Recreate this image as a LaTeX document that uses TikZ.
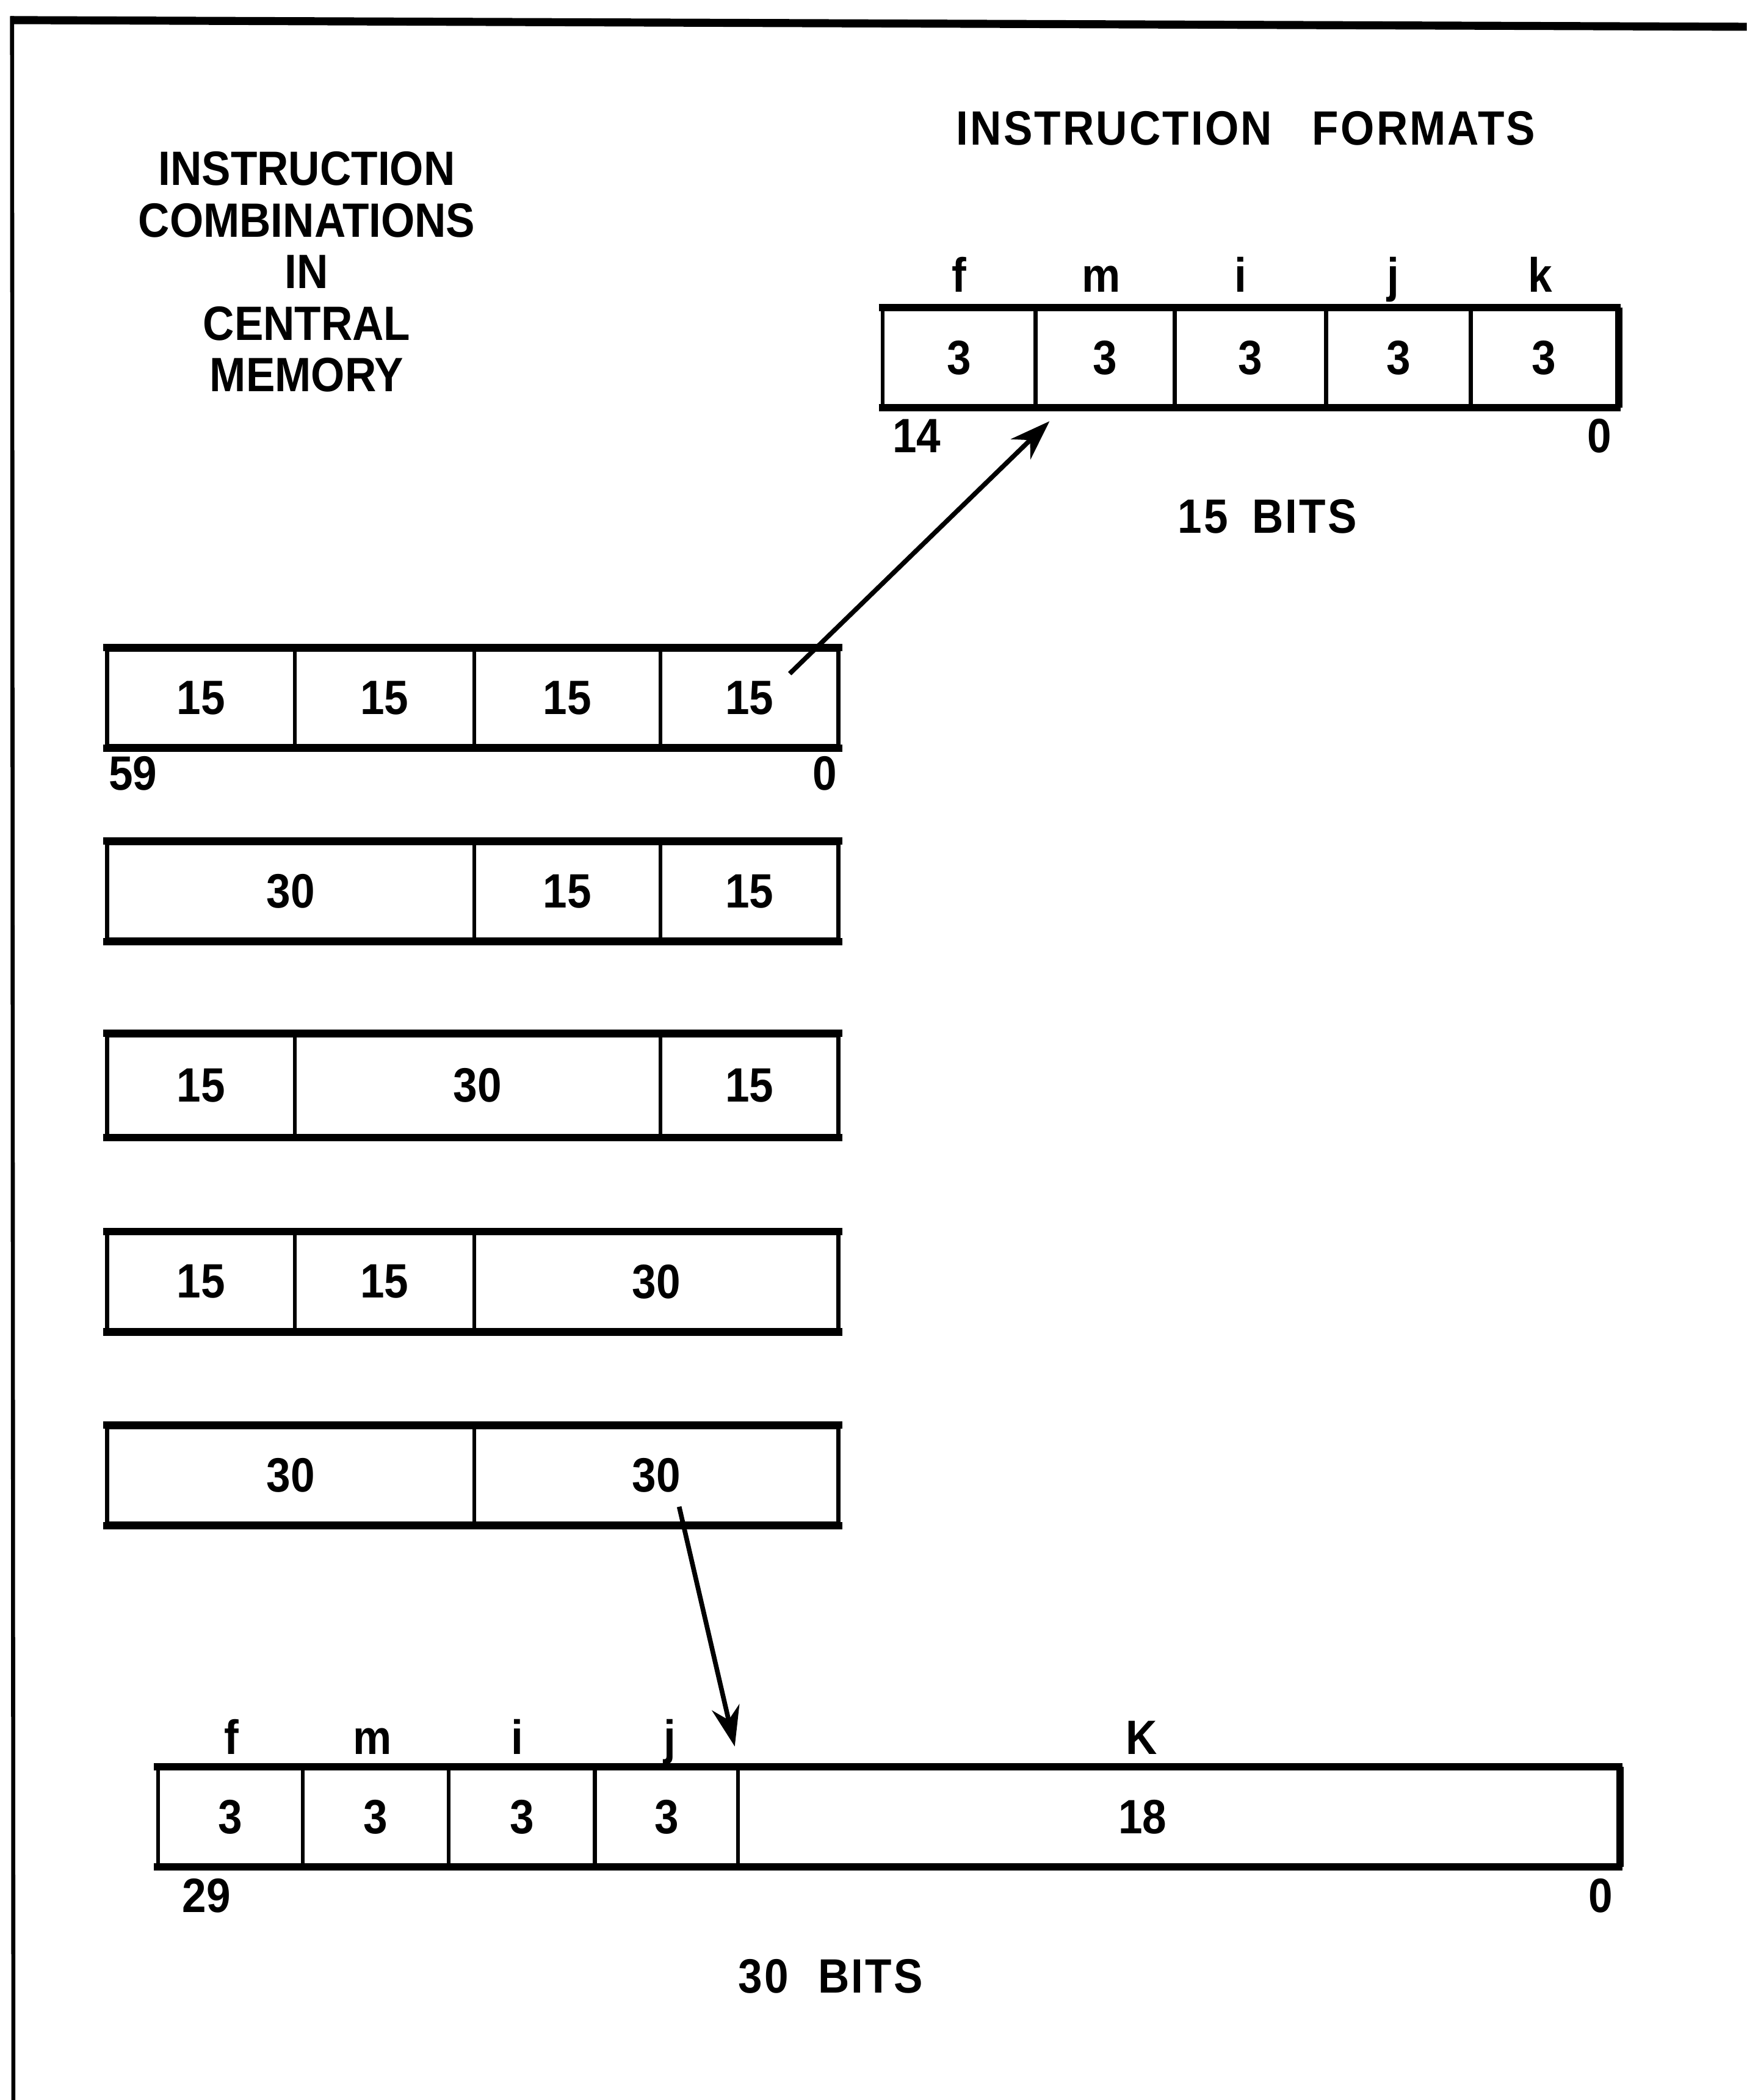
\documentclass[tikz,border=0pt]{standalone}
\usepackage{fontspec}
\setmainfont{Liberation Sans}[FakeStretch=0.9]
\newfontfamily\headfont{Liberation Sans}[FakeStretch=0.9, LetterSpace=4]
\usetikzlibrary{arrows.meta, positioning, calc}
\newcommand{\letterfont}{\fontsize{36}{38.5}\selectfont\bfseries}
\tikzset{
x=1pt, y=-1pt,
>={Stealth[length=30pt,width=21pt]},
field/.style={%
    rectangle,
    draw=black,
    line width=3pt,
    minimum height=72pt,
    inner sep=0pt,
    font=\letterfont
},
heavy/.style={line width=5.5pt, shorten <=-1.5pt, shorten >=-1.5pt},
tag/.style={inner sep=0pt, font=\letterfont},
head/.style={tag, font=\headfont\letterfont},
link/.style={line width=3.5pt, ->},
}

\begin{document}
\begin{tikzpicture}
	\useasboundingbox[fill=white] (0,0) rectangle (1304,1568);
	% frame
	\draw[line width=6pt] (8,15) -- (1304,20);
	\draw[line width=3pt] (9,12) -- (10,1568);

	% titles
	\node[tag, align=center, anchor=north] (cmtitle) at (229,113)
		{INSTRUCTION\\COMBINATIONS\\IN\\CENTRAL\\MEMORY};
	\node[head, anchor=base] (fmttitle) at (930,108) {INSTRUCTION\hspace{30pt}FORMATS};

	% 15 bit format
	\node[field, minimum width=114pt] at (716,267) (f1) {3};
	\node[field, minimum width=104pt] at (825,267) (f2) {3};
	\node[field, minimum width=113pt] at (933.5,267) (f3) {3};
	\node[field, minimum width=108pt] at (1044,267) (f4) {3};
	\node[field, minimum width=109pt] at (1152.5,267) (f5) {3};
	\draw[heavy] (f1.north west) -- (f5.north east);
	\draw[heavy] (f1.south west) -- (f5.south east);
	\draw[heavy, shorten <=0pt, shorten >=0pt] (f5.north east) -- (f5.south east);
	\node[tag, anchor=base] at (716,218) (lf1) {f};
	\node[tag, anchor=base] at (822,218) (lm1) {m};
	\node[tag, anchor=base] at (926,218) (li1) {i};
	\node[tag, anchor=base] at (1040,218) (lj1) {j};
	\node[tag, anchor=base] at (1150,218) (lk1) {k};
	\node[tag, anchor=base west] at (666,338) (b14) {14};
	\node[tag, anchor=base east] at (1203,338) (b0a) {0};
	\node[head, anchor=base] at (946,398) (bits15) {15\hspace{18pt}BITS};

	% words in central memory
	\node[field, minimum width=140pt] at (150,521) (r1a) {15};
	\node[field, minimum width=134pt] at (287,521) (r1b) {15};
	\node[field, minimum width=139pt] at (423.5,521) (r1c) {15};
	\node[field, minimum width=133pt] at (559.5,521) (r1d) {15};
	\node[tag, anchor=base west] at (81,590) (b59) {59};
	\node[tag, anchor=base east] at (625,590) (b0b) {0};

	\node[field, minimum width=274pt] at (217,665.5) (r2a) {30};
	\node[field, minimum width=139pt] at (423.5,665.5) (r2b) {15};
	\node[field, minimum width=133pt] at (559.5,665.5) (r2c) {15};

	\node[field, minimum width=140pt, minimum height=75pt] at (150,810.5) (r3a) {15};
	\node[field, minimum width=273pt, minimum height=75pt] at (356.5,810.5) (r3b) {30};
	\node[field, minimum width=133pt, minimum height=75pt] at (559.5,810.5) (r3c) {15};

	\node[field, minimum width=140pt] at (150,957) (r4a) {15};
	\node[field, minimum width=134pt] at (287,957) (r4b) {15};
	\node[field, minimum width=272pt] at (490,957) (r4c) {30};

	\node[field, minimum width=274pt] at (217,1101.5) (r5a) {30};
	\node[field, minimum width=272pt] at (490,1101.5) (r5b) {30};

	\foreach \w/\e in {r1a/r1d, r2a/r2c, r3a/r3c, r4a/r4c, r5a/r5b} {
		\draw[heavy] (\w.north west) -- (\e.north east);
		\draw[heavy] (\w.south west) -- (\e.south east);
	}

	% 30 bit format
	\node[field, minimum width=108pt] at (172,1356.5) (g1) {3};
	\node[field, minimum width=109pt] at (280.5,1356.5) (g2) {3};
	\node[field, minimum width=109pt] at (389.5,1356.5) (g3) {3};
	\node[field, minimum width=107pt] at (497.5,1356.5) (g4) {3};
	\node[field, minimum width=657pt] at (879.5,1356.5) (g5) {};
	\node[tag] at (853,1356.5) (g5n) {18};
	\draw[heavy] (g1.north west) -- (g5.north east);
	\draw[heavy] (g1.south west) -- (g5.south east);
	\draw[heavy, shorten <=0pt, shorten >=0pt] (g5.north east) -- (g5.south east);
	\node[tag, anchor=base] at (173,1310) (lf2) {f};
	\node[tag, anchor=base] at (278,1310) (lm2) {m};
	\node[tag, anchor=base] at (386,1310) (li2) {i};
	\node[tag, anchor=base] at (500,1310) (lj2) {j};
	\node[tag, anchor=base] at (852,1310) (lk2) {K};
	\node[tag, anchor=base west] at (136,1428) (b29) {29};
	\node[tag, anchor=base east] at (1204,1428) (b0c) {0};
	\node[head, anchor=base] at (620,1488) (bits30) {30\hspace{22pt}BITS};

	% arrows
	\draw[link] ($(r1d.center)+(30,-18)$) -- ($(f2.south west)+(12,10)$);
	\draw[link] ($(r5b.center)+(17,23.5)$) -- ($(g5.north west)+(-1,-15)$);
\end{tikzpicture}
\end{document}
